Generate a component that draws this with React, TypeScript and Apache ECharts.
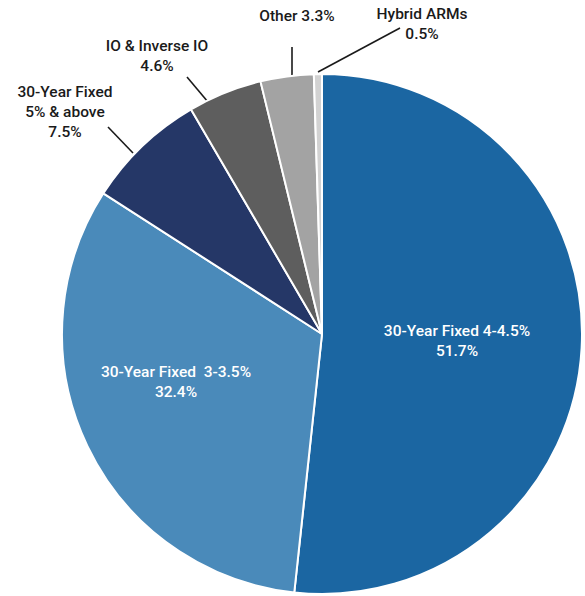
import React, { useEffect, useRef } from "react";
import * as echarts from "echarts";

const categories = [
  "30-Year Fixed 4-4.5%",
  "30-Year Fixed  3-3.5%",
  "30-Year Fixed\n5% & above",
  "IO & Inverse IO",
  "Other",
  "Hybrid ARMs",
];
const values = [51.7, 32.4, 7.5, 4.6, 3.3, 0.5];
const colors = ["#1b66a2", "#4a8aba", "#253767", "#5e5e5e", "#a3a3a3", "#d2d2d2"];
const labelTemplates = [
  "{name}\n{value}%",
  "{name}\n{value}%",
  "{name}\n{value}%",
  "{name}\n{value}%",
  "{name} {value}%",
  "{name}\n{value}%",
];

// label anchor positions (text centre) and leader lines
const labelPos: [number, number][] = [
  [457, 341],
  [176, 382],
  [65, 112],
  [157, 56],
  [297, 16],
  [422, 24],
];
const leaderLines: ([number, number][] | null)[] = [
  null,
  null,
  [[108, 127], [133, 153]],
  [[187, 77], [208, 102]],
  [[292, 47], [292, 75]],
  [[400, 28], [318, 72]],
];

export default function App() {
  const ref = useRef<HTMLDivElement>(null);
  useEffect(() => {
    document.body.style.margin = "0";
    const chart = echarts.init(ref.current!, null, { renderer: "svg" });
    const font = "Roboto, 'Liberation Sans', Arial, sans-serif";
    chart.setOption({
      animation: false,
      backgroundColor: "#ffffff",
      series: [
        {
          type: "pie",
          center: [322, 334],
          radius: [0, 260],
          startAngle: 90,
          clockwise: true,
          avoidLabelOverlap: false,
          itemStyle: { borderColor: "#ffffff", borderWidth: 2 },
          data: categories.map((name, i) => ({
            name,
            value: values[i],
            itemStyle: { color: colors[i] },
            label: {
              show: true,
              formatter: (p: any) =>
                labelTemplates[i].replace("{name}", p.name).replace("{value}", String(p.value)),
              position: i < 2 ? "inside" : "outside",
              color: i < 2 ? "#ffffff" : "#1a1a1a",
              fontFamily: font,
              fontSize: 15.5,
              fontWeight: 500,
              lineHeight: 20,
              align: "center",
            },
            labelLine: {
              show: i >= 2,
              lineStyle: { color: "#1a1a1a", width: 1.6 },
            },
          })),
          labelLayout: (params: any) => {
            const i = params.dataIndex;
            const out: any = {
              x: labelPos[i][0],
              y: labelPos[i][1],
              align: "center",
              verticalAlign: "middle",
            };
            if (leaderLines[i]) {
              const pts = leaderLines[i]!;
              out.labelLinePoints = [pts[1], pts[0], pts[0]];
            }
            return out;
          },
        },
      ],
    });
    return () => chart.dispose();
  }, []);
  return <div ref={ref} style={{ width: 585, height: 596 }} />;
}
